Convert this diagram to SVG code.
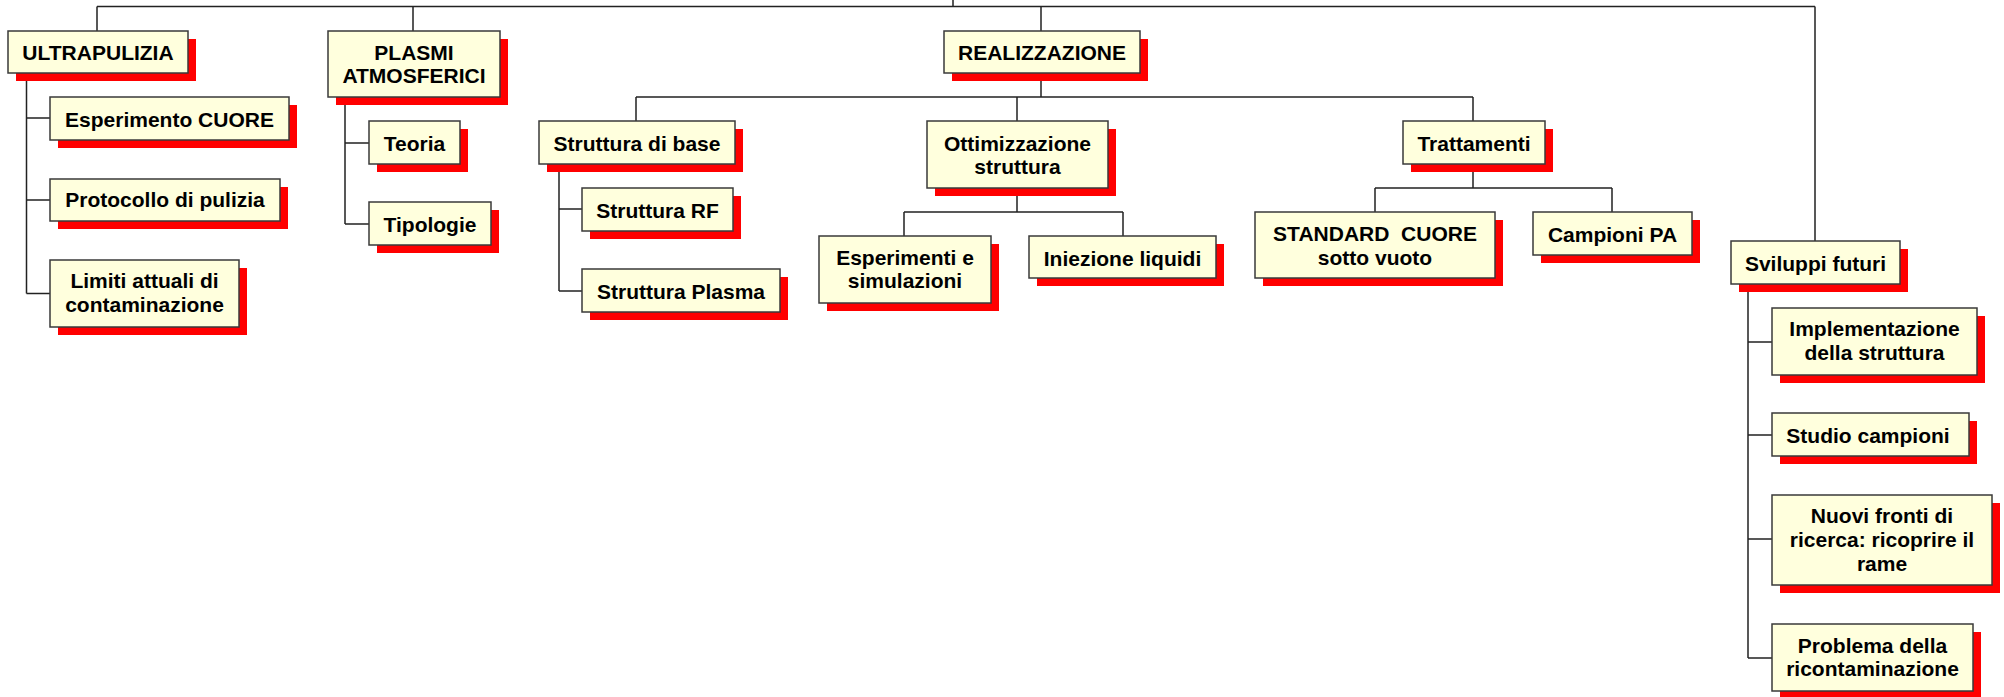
<svg xmlns="http://www.w3.org/2000/svg" width="2004" height="697" viewBox="0 0 2004 697">
<style>
.sh{fill:#FF0000;stroke:none}
.bx{fill:#FFFFDD;stroke:#3a3a3a;stroke-width:1.5}
.t{font-family:"Liberation Sans",Arial,sans-serif;font-weight:bold;font-size:21px;fill:#000;text-anchor:middle;white-space:pre}
.c{fill:none;stroke:#222;stroke-width:1.5}
</style>
<rect width="2004" height="697" fill="#fff"/>
<g id="connectors" class="c">
<path d="M953,0V6.5M97,6.5H1815M97,6.5V31M413,6.5V31M1041,6.5V31M1815,6.5V241"/>
<path d="M26.5,73V293.5M26.5,118H50M26.5,200H50M26.5,293.5H50"/>
<path d="M345,97V224M345,143H369M345,224H369"/>
<path d="M1041,73V97M636,97H1473M636,97V121M1017,97V121M1473,97V121"/>
<path d="M559,164V291M559,209H582M559,291H582"/>
<path d="M1017,188V212M904,212H1123M904,212V236M1123,212V236"/>
<path d="M1473,164V188M1375,188H1612M1375,188V212M1612,188V212"/>
<path d="M1748,284V658M1748,342H1772M1748,435H1772M1748,539H1772M1748,658H1772"/>
</g>
<g id="n-ultrapulizia"><rect class="sh" x="16" y="39" width="180" height="42"/><rect class="bx" x="8" y="31" width="180" height="42"/><text class="t" x="98" y="60">ULTRAPULIZIA</text></g>
<g id="n-plasmi"><rect class="sh" x="336" y="39" width="172" height="66"/><rect class="bx" x="328" y="31" width="172" height="66"/><text class="t" x="414" y="60">PLASMI</text><text class="t" x="414" y="83">ATMOSFERICI</text></g>
<g id="n-realizzazione"><rect class="sh" x="952" y="39" width="196" height="42"/><rect class="bx" x="944" y="31" width="196" height="42"/><text class="t" x="1042" y="60">REALIZZAZIONE</text></g>
<g id="n-esperimento"><rect class="sh" x="58" y="105" width="239" height="43"/><rect class="bx" x="50" y="97" width="239" height="43"/><text class="t" x="169.5" y="127">Esperimento CUORE</text></g>
<g id="n-protocollo"><rect class="sh" x="58" y="187" width="230" height="42"/><rect class="bx" x="50" y="179" width="230" height="42"/><text class="t" x="165" y="207">Protocollo di pulizia</text></g>
<g id="n-limiti"><rect class="sh" x="58" y="268" width="189" height="67"/><rect class="bx" x="50" y="260" width="189" height="67"/><text class="t" x="144.5" y="288">Limiti attuali di</text><text class="t" x="144.5" y="312">contaminazione</text></g>
<g id="n-teoria"><rect class="sh" x="377" y="129" width="91" height="43"/><rect class="bx" x="369" y="121" width="91" height="43"/><text class="t" x="414.5" y="151">Teoria</text></g>
<g id="n-tipologie"><rect class="sh" x="377" y="210" width="122" height="43"/><rect class="bx" x="369" y="202" width="122" height="43"/><text class="t" x="430" y="232">Tipologie</text></g>
<g id="n-struttura-base"><rect class="sh" x="547" y="129" width="196" height="43"/><rect class="bx" x="539" y="121" width="196" height="43"/><text class="t" x="637" y="151">Struttura di base</text></g>
<g id="n-struttura-rf"><rect class="sh" x="590" y="196" width="151" height="43"/><rect class="bx" x="582" y="188" width="151" height="43"/><text class="t" x="657.5" y="218">Struttura RF</text></g>
<g id="n-struttura-plasma"><rect class="sh" x="590" y="277" width="198" height="43"/><rect class="bx" x="582" y="269" width="198" height="43"/><text class="t" x="681" y="299">Struttura Plasma</text></g>
<g id="n-ottimizzazione"><rect class="sh" x="935" y="129" width="181" height="67"/><rect class="bx" x="927" y="121" width="181" height="67"/><text class="t" x="1017.5" y="151">Ottimizzazione</text><text class="t" x="1017.5" y="174">struttura</text></g>
<g id="n-esperimenti"><rect class="sh" x="827" y="244" width="172" height="67"/><rect class="bx" x="819" y="236" width="172" height="67"/><text class="t" x="905" y="265">Esperimenti e</text><text class="t" x="905" y="288">simulazioni</text></g>
<g id="n-iniezione"><rect class="sh" x="1037" y="244" width="187" height="42"/><rect class="bx" x="1029" y="236" width="187" height="42"/><text class="t" x="1122.5" y="266">Iniezione liquidi</text></g>
<g id="n-trattamenti"><rect class="sh" x="1411" y="129" width="142" height="43"/><rect class="bx" x="1403" y="121" width="142" height="43"/><text class="t" x="1474" y="151">Trattamenti</text></g>
<g id="n-standard"><rect class="sh" x="1263" y="220" width="240" height="66"/><rect class="bx" x="1255" y="212" width="240" height="66"/><text class="t" x="1375" y="241" xml:space="preserve">STANDARD  CUORE</text><text class="t" x="1375" y="265">sotto vuoto</text></g>
<g id="n-campioni"><rect class="sh" x="1541" y="220" width="159" height="43"/><rect class="bx" x="1533" y="212" width="159" height="43"/><text class="t" x="1612.5" y="242">Campioni PA</text></g>
<g id="n-sviluppi"><rect class="sh" x="1739" y="249" width="169" height="43"/><rect class="bx" x="1731" y="241" width="169" height="43"/><text class="t" x="1815.5" y="271">Sviluppi futuri</text></g>
<g id="n-implementazione"><rect class="sh" x="1780" y="316" width="205" height="67"/><rect class="bx" x="1772" y="308" width="205" height="67"/><text class="t" x="1874.5" y="336">Implementazione</text><text class="t" x="1874.5" y="360">della struttura</text></g>
<g id="n-studio"><rect class="sh" x="1780" y="421" width="197" height="43"/><rect class="bx" x="1772" y="413" width="197" height="43"/><text class="t" x="1868" y="443">Studio campioni</text></g>
<g id="n-nuovi"><rect class="sh" x="1780" y="503" width="220" height="90"/><rect class="bx" x="1772" y="495" width="220" height="90"/><text class="t" x="1882" y="523">Nuovi fronti di</text><text class="t" x="1882" y="547">ricerca: ricoprire il</text><text class="t" x="1882" y="571">rame</text></g>
<g id="n-problema"><rect class="sh" x="1780" y="632" width="201" height="67"/><rect class="bx" x="1772" y="624" width="201" height="67"/><text class="t" x="1872.5" y="653">Problema della</text><text class="t" x="1872.5" y="676">ricontaminazione</text></g>
</svg>
